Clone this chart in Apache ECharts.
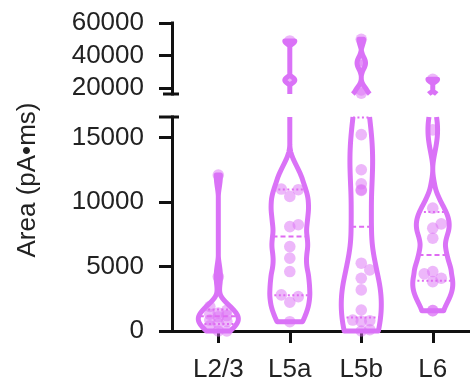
<!DOCTYPE html>
<html>
<head>
<meta charset="utf-8">
<script src="https://cdn.jsdelivr.net/npm/echarts@6/dist/echarts.min.js"></script>
<style>
  html, body { margin: 0; padding: 0; background: #fff; }
  #chart { width: 472px; height: 377px; }
</style>
</head>
<body>
<div id="chart"></div>
<script>
// Groups and their individual measurements (pA·ms)
const categories = ['L2/3', 'L5a', 'L5b', 'L6'];
const valuesL23 = [0, 0, 400, 600, 750, 850, 1100, 1200, 1300, 1400, 1600, 1900, 4200, 12100];
const valuesL5a = [720, 2230, 2670, 2800, 4610, 5650, 6550, 8100, 8240, 10440, 10960, 11010, 25000, 49000];
const valuesL5b = [0, 100, 750, 800, 850, 1630, 3190, 4090, 4740, 5260, 10900, 10960, 11420, 12510, 15230, 17000, 19000, 34000, 37000, 50000];
const valuesL6 = [1580, 1580, 3830, 4090, 4430, 4610, 7200, 7980, 8310, 9530, 15600, 25500];

// Kernel radius (biweight) for each violin's density estimate
const kdeBandwidth = [1700, 3500, 7000, 3000];

// Broken y axis: lower and upper segments
const lowerRange = [0, 16600];
const upperRange = [16500, 60000];
const lowerTicks = [0, 5000, 10000, 15000];
const upperTicks = [20000, 40000, 60000];

const categoryIndex = categories.map((c, i) => i);
const groups = [valuesL23, valuesL5a, valuesL5b, valuesL6];

const FONT = '"Liberation Sans", Arial, Helvetica, sans-serif';
const OUTLINE = '#DA72F7';
const QLINE = '#DF6CF2';
const POINT_FILL = 'rgba(219, 112, 246, 0.5)';
const AXIS = '#111';
const TEXT = '#222';
const HALF_WIDTH = 0.28;   // max violin half-width, category units
const R = 5.8;             // point radius, px
const STEP = 8.5;          // horizontal spacing of crowded points, px
const MIN_GAP = 9;         // preferred distance between point centres, px
const X_MIN = -0.648, X_MAX = 3.5;

const sortedGroups = groups.map(g => g.slice().sort((a, b) => a - b));

function quantile(s, p) {
  const n = s.length;
  const pos = (n + 1) * p;
  const lo = Math.floor(pos);
  const f = pos - lo;
  if (lo < 1) return s[0];
  if (lo >= n) return s[n - 1];
  return s[lo - 1] + f * (s[lo] - s[lo - 1]);
}
const quartiles = sortedGroups.map(s => [quantile(s, 0.25), quantile(s, 0.5), quantile(s, 0.75)]);

// Biweight kernel density, truncated at the data range, scaled to a common max width
function buildProfile(s, h) {
  const lo = s[0], hi = s[s.length - 1];
  const N = 1000;
  const out = [];
  let m = 0;
  for (let i = 0; i <= N; i++) {
    const y = lo + (hi - lo) * i / N;
    let d = 0;
    for (const v of s) {
      const u = (y - v) / h;
      if (Math.abs(u) < 1) { const t = 1 - u * u; d += t * t; }
    }
    out.push({ y, d });
    if (d > m) m = d;
  }
  return out.map(p => ({ y: p.y, w: HALF_WIDTH * p.d / m }));
}
const profiles = sortedGroups.map((s, i) => buildProfile(s, kdeBandwidth[i]));

function widthAt(prof, y) {
  if (y <= prof[0].y) return prof[0].w;
  for (let i = 1; i < prof.length; i++) {
    if (prof[i].y >= y) {
      const a = prof[i - 1], b = prof[i];
      const t = (y - a.y) / (b.y - a.y || 1);
      return a.w + t * (b.w - a.w);
    }
  }
  return prof[prof.length - 1].w;
}

const inLower = v => v <= lowerRange[1];

function makeRenderer(seg, isLower) {
  return function (params, api) {
    const idx = params.dataIndex;
    const vals = sortedGroups[idx];
    const prof = profiles[idx];
    const children = [];

    // individual points, spread sideways inside the violin where they crowd
    const placed = [];
    vals.filter(v => inLower(v) === isLower).forEach(v => {
      const c = api.coord([idx, v]);
      const edge = api.coord([idx + widthAt(prof, v), v])[0] - c[0];
      const limit = Math.max(0, edge - 3);
      const cands = [0];
      for (let k = 1; k * STEP <= limit + 0.01; k++) { cands.push(k * STEP, -k * STEP); }
      let best = 0, bestDist = -1;
      for (const cand of cands) {
        const dmin = placed.reduce((m, p) => Math.min(m, Math.hypot(p.x - (c[0] + cand), p.y - c[1])), Infinity);
        if (dmin >= MIN_GAP) { best = cand; bestDist = dmin; break; }
        if (dmin > bestDist) { bestDist = dmin; best = cand; }
      }
      placed.push({ x: c[0] + best, y: c[1] });
    });
    placed.forEach(p => children.push({
      type: 'circle', shape: { cx: p.x, cy: p.y, r: R }, style: { fill: POINT_FILL }
    }));

    // quartile lines: median dashed, quartiles dotted
    quartiles[idx].forEach((q, qi) => {
      if (inLower(q) !== isLower) return;
      const w = widthAt(prof, q);
      const a = api.coord([idx - w, q]);
      const b = api.coord([idx + w, q]);
      children.push({
        type: 'line', shape: { x1: a[0], y1: a[1], x2: b[0], y2: b[1] },
        style: { stroke: QLINE, lineWidth: 2, lineDash: qi === 1 ? [5, 3] : [2, 2.5] }
      });
    });

    // violin outline, clipped to this axis segment
    const lo = seg[0], hi = seg[1];
    const first = prof[0].y, last = prof[prof.length - 1].y;
    if (last < lo || first > hi) return { type: 'group', children };
    const pts = prof.filter(p => p.y >= lo && p.y <= hi);
    if (first < lo) pts.unshift({ y: lo, w: widthAt(prof, lo) });
    if (last > hi) pts.push({ y: hi, w: widthAt(prof, hi) });
    const left = pts.map(p => api.coord([idx - p.w, p.y]));
    const right = pts.map(p => api.coord([idx + p.w, p.y]));
    const bottomClosed = first >= lo;
    const topClosed = last <= hi;
    const lineStyle = { stroke: OUTLINE, lineWidth: 5, fill: null, lineJoin: 'round' };
    if (bottomClosed && topClosed) {
      children.push({ type: 'polygon', shape: { points: left.concat(right.slice().reverse()) }, style: lineStyle });
    } else if (bottomClosed) {
      children.push({ type: 'polyline', shape: { points: left.slice().reverse().concat(right) }, style: lineStyle });
    } else if (topClosed) {
      children.push({ type: 'polyline', shape: { points: left.concat(right.slice().reverse()) }, style: lineStyle });
    } else {
      children.push({ type: 'polyline', shape: { points: left }, style: lineStyle });
      children.push({ type: 'polyline', shape: { points: right }, style: lineStyle });
    }
    return { type: 'group', children };
  };
}

const axisLine = { show: true, onZero: false, lineStyle: { color: AXIS, width: 3, cap: 'square' } };
const tickStyle = { color: AXIS, width: 3 };
const labelStyle = { fontSize: 26, color: TEXT, fontFamily: FONT };
const plainNumber = v => String(v);

const chart = echarts.init(document.getElementById('chart'), null, { renderer: 'canvas' });
chart.setOption({
  animation: false,
  backgroundColor: '#fff',
  grid: [
    { left: 172, top: 117, width: 296.5, height: 214, containLabel: false, outerBoundsMode: 'none' },
    { left: 172, top: 23, width: 296.5, height: 71, containLabel: false, outerBoundsMode: 'none' }
  ],
  xAxis: [
    {
      gridIndex: 0, type: 'value', min: X_MIN, max: X_MAX,
      axisLine: axisLine,
      axisTick: { show: true, customValues: categoryIndex, length: 12, lineStyle: tickStyle },
      axisLabel: Object.assign({ customValues: categoryIndex, margin: 26, formatter: v => categories[Math.round(v)] }, labelStyle),
      splitLine: { show: false }
    },
    { gridIndex: 1, type: 'value', min: X_MIN, max: X_MAX, show: false }
  ],
  yAxis: [
    {
      gridIndex: 0, type: 'value', min: lowerRange[0], max: lowerRange[1],
      axisLine: axisLine,
      axisTick: { show: true, customValues: lowerTicks, length: 13, lineStyle: tickStyle },
      axisLabel: Object.assign({ customValues: lowerTicks, margin: 28, formatter: plainNumber }, labelStyle),
      splitLine: { show: false }
    },
    {
      gridIndex: 1, type: 'value', min: upperRange[0], max: upperRange[1],
      axisLine: axisLine,
      axisTick: { show: true, customValues: upperTicks, length: 13, lineStyle: tickStyle },
      axisLabel: Object.assign({ customValues: upperTicks, margin: 28, formatter: plainNumber }, labelStyle),
      splitLine: { show: false }
    }
  ],
  series: [
    {
      type: 'custom', xAxisIndex: 0, yAxisIndex: 0, clip: false, z: 5,
      renderItem: makeRenderer(lowerRange, true),
      data: categoryIndex.map(i => [i, lowerRange[0]])
    },
    {
      type: 'custom', xAxisIndex: 1, yAxisIndex: 1, clip: false, z: 5,
      renderItem: makeRenderer(upperRange, false),
      data: categoryIndex.map(i => [i, upperRange[1]])
    }
  ]
});

// axis-break caps and the y-axis title
const yBreakLow = chart.convertToPixel({ yAxisIndex: 0 }, lowerRange[1]);
const yBreakHigh = chart.convertToPixel({ yAxisIndex: 1 }, upperRange[0]);
const xAxisPos = chart.convertToPixel({ xAxisIndex: 0 }, X_MIN);
const yTitleMid = (chart.convertToPixel({ yAxisIndex: 1 }, upperRange[1]) + chart.convertToPixel({ yAxisIndex: 0 }, lowerRange[0])) / 2;
chart.setOption({
  graphic: [
    { type: 'line', shape: { x1: xAxisPos - 13, y1: yBreakLow, x2: xAxisPos + 7, y2: yBreakLow }, style: { stroke: AXIS, lineWidth: 3 }, z: 10 },
    { type: 'line', shape: { x1: xAxisPos - 9, y1: yBreakHigh, x2: xAxisPos + 7, y2: yBreakHigh }, style: { stroke: AXIS, lineWidth: 3 }, z: 10 },
    {
      type: 'text', x: 28, y: yTitleMid + 3, rotation: Math.PI / 2,
      style: { text: 'Area (pA\u2022ms)', fontSize: 26, fontFamily: FONT, fill: TEXT, align: 'center', verticalAlign: 'middle' }
    }
  ]
});
</script>
</body>
</html>
